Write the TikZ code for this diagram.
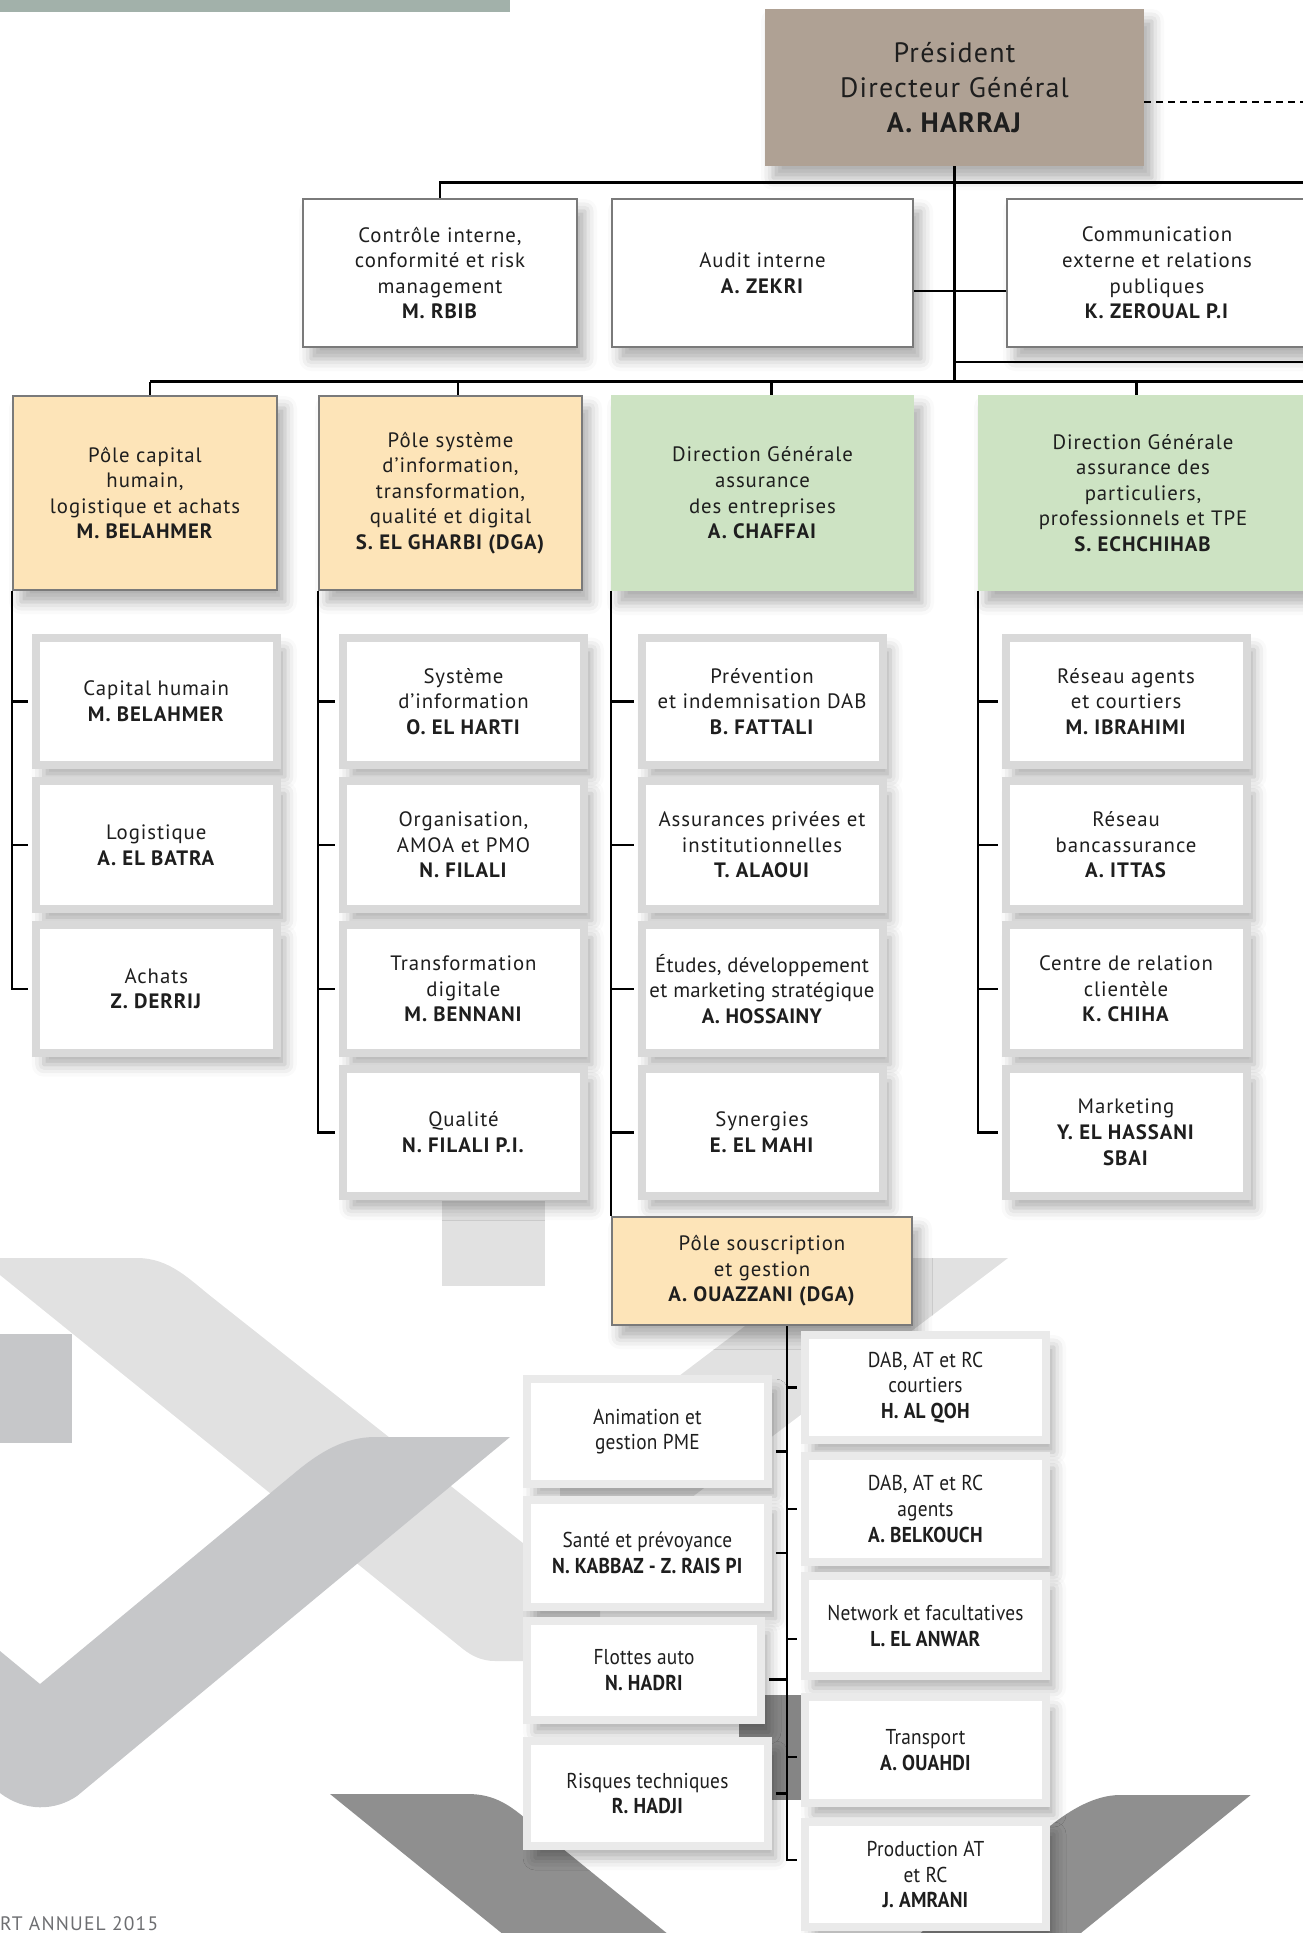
\documentclass[tikz,border=0pt]{standalone}
\usepackage{fontspec}
\setmainfont{PT Sans}[LetterSpace=4.5]
\newfontfamily\condfont{PT Sans}[FakeStretch=0.9, LetterSpace=1]
\newfontfamily\footfont{PT Sans}[LetterSpace=6]
\newfontfamily\tightfont{PT Sans}[LetterSpace=1.5]
\usetikzlibrary{shadows.blur}
\definecolor{barcol}{HTML}{A2B1AA}
\definecolor{pdgfill}{HTML}{AFA194}
\definecolor{yellowfill}{HTML}{FDE4B8}
\definecolor{greenfill}{HTML}{CDE3C3}
\definecolor{bordergray}{HTML}{7A7A7A}
\definecolor{framegray}{HTML}{D9D9D9}
\definecolor{framelight}{HTML}{EAEAEA}
\definecolor{decolight}{HTML}{E1E1E1}
\definecolor{decomid}{HTML}{C6C7C9}
\definecolor{decodark}{HTML}{8F8F8F}
\definecolor{rectdark}{HTML}{858585}
\definecolor{inkcol}{HTML}{1E1E1E}
\definecolor{footcol}{HTML}{6D6E71}
\newcommand\fsMain{\fontsize{20.8}{25.6}\selectfont}
\newcommand\fsBig{\fontsize{28}{35}\selectfont}
\newcommand\fsCond{\condfont\fontsize{21.5}{25.7}\selectfont}
\newcommand\fsTight{\tightfont\fontsize{20.8}{25.6}\selectfont}
\begin{document}
\begin{tikzpicture}[x=1pt,y=-1pt,
  conn/.style={line width=2.5pt, draw=black},
  shad/.style={blur shadow={shadow xshift=8pt, shadow yshift=-12pt, shadow blur radius=12pt, shadow opacity=32}},
  txt/.style={inner sep=0pt, align=center, text=inkcol},
  pdgbox/.style={txt, shad, fill=pdgfill, font=\fsBig},
  lvlone/.style={txt, shad, fill=white, draw=bordergray, line width=2.5pt, font=\fsMain},
  pole/.style={lvlone, fill=yellowfill},
  dgbox/.style={txt, shad, fill=greenfill, font=\fsMain},
  sub/.style={txt, shad, fill=white, draw=framegray, line width=8pt, font=\fsMain, minimum width=241pt, minimum height=127.4pt},
  subc/.style={txt, shad, fill=white, draw=framelight, line width=8pt, font=\fsCond}
]
\useasboundingbox (0,0) rectangle (1303,1933);
\clip (0,0) rectangle (1303,1933);

% ---------- background decoration ----------
\fill[barcol] (0,0) rectangle (510,12);
\fill[decolight] (0,1258) -- (137,1258) .. controls (170,1258) and (190,1280) .. (213,1298)
  -- (600,1604) -- (600,1661) -- (495,1661) .. controls (482,1661) and (472,1656) .. (463,1649)
  -- (0,1275) -- cycle;
\fill[decolight] (1008,1258) -- (835,1258) -- (560,1466) -- (560,1597) -- cycle;
\fill[decomid] (0,1651) -- (40,1684) -- (297,1471) .. controls (320,1452) and (345,1437) .. (375,1437)
  -- (510,1437) -- (77,1796) .. controls (55,1811) and (25,1812) .. (0,1793) -- cycle;
\fill[decomid] (0,1334) rectangle (71.7,1443);
\fill[decolight] (442,1201) rectangle (545,1286);
\fill[decodark] (330,1794) -- (468,1794) .. controls (490,1794) and (505,1802) .. (520,1814)
  -- (690,1952) -- (525,1952) -- cycle;
\fill[decodark] (1250.7,1795) -- (1120,1795) .. controls (1095,1795) and (1070,1810) .. (1050,1826)
  -- (900,1950) -- (1060,1950) -- cycle;
\fill[rectdark] (739,1695) rectangle (805,1800);
\node[anchor=south west, inner sep=0pt, text=footcol, font=\footfont\fontsize{19.5}{23}\selectfont] (foot) at (0,1931) {RT ANNUEL 2015};

% ---------- nodes ----------
\node[pdgbox, minimum width=379pt, minimum height=157pt] (pdg) at (954.5,87.5)
  {Président\\Directeur Général\\\textbf{A. HARRAJ}};

\node[lvlone, minimum width=274pt, minimum height=148pt] (ctrl) at (440,273)
  {Contrôle interne,\\conformité et risk\\management\\\textbf{M. RBIB}};
\node[lvlone, minimum width=301pt, minimum height=148pt] (audit) at (762.5,273)
  {Audit interne\\\textbf{A. ZEKRI}};
\node[lvlone, minimum width=300pt, minimum height=148pt] (comm) at (1157,273)
  {Communication\\externe et relations\\publiques\\\textbf{K. ZEROUAL P.I}};

\node[pole, minimum width=264pt, minimum height=194pt] (p1) at (145,493)
  {Pôle capital\\humain,\\logistique et achats\\\textbf{M. BELAHMER}};
\node[pole, minimum width=263pt, minimum height=194pt] (p2) at (450.5,493)
  {Pôle système\\d’information,\\transformation,\\qualité et digital\\\textbf{S. EL GHARBI (DGA)}};
\node[dgbox, minimum width=303pt, minimum height=196pt] (g1) at (762.5,493)
  {Direction Générale\\assurance\\des entreprises\\\textbf{A. CHAFFAI}};
\node[dgbox, minimum width=330pt, minimum height=196pt] (g2) at (1143,493)
  {Direction Générale\\assurance des\\particuliers,\\professionnels et TPE\\\textbf{S. ECHCHIHAB}};

% column 1
\node[sub] (c1a) at (156.3,701.3) {Capital humain\\\textbf{M. BELAHMER}};
\node[sub] (c1b) at (156.3,845) {Logistique\\\textbf{A. EL BATRA}};
\node[sub] (c1c) at (156.3,988.9) {Achats\\\textbf{Z. DERRIJ}};
% column 2
\node[sub] (c2a) at (463.5,701.3) {Système\\d’information\\\textbf{O. EL HARTI}};
\node[sub] (c2b) at (463.5,845) {Organisation,\\AMOA et PMO\\\textbf{N. FILALI}};
\node[sub] (c2c) at (463.5,988.9) {Transformation\\digitale\\\textbf{M. BENNANI}};
\node[sub] (c2d) at (463.5,1132.3) {Qualité\\\textbf{N. FILALI P.I.}};
% column 3
\node[sub] (c3a) at (762,701.3) {Prévention\\et indemnisation DAB\\\textbf{B. FATTALI}};
\node[sub] (c3b) at (762,845) {Assurances privées et\\institutionnelles\\\textbf{T. ALAOUI}};
\node[sub, font=\fsTight] (c3c) at (762,988.9) {Études, développement\\et marketing stratégique\\\textbf{A. HOSSAINY}};
\node[sub] (c3d) at (762,1132.3) {Synergies\\\textbf{E. EL MAHI}};
% column 4
\node[sub] (c4a) at (1126,701.3) {Réseau agents\\et courtiers\\\textbf{M. IBRAHIMI}};
\node[sub] (c4b) at (1126,845) {Réseau\\bancassurance\\\textbf{A. ITTAS}};
\node[sub] (c4c) at (1126,988.9) {Centre de relation\\clientèle\\\textbf{K. CHIHA}};
\node[sub] (c4d) at (1126,1132.3) {Marketing\\\textbf{Y. EL HASSANI}\\\textbf{SBAI}};

% pole souscription
\node[pole, minimum width=300pt, minimum height=108pt] (ps) at (762,1271)
  {Pôle souscription\\et gestion\\\textbf{A. OUAZZANI (DGA)}};

% bottom left
\node[subc, minimum width=240.7pt, minimum height=105pt] (la) at (647.4,1431.5) {Animation et\\gestion PME};
\node[subc, minimum width=240.7pt, minimum height=107pt] (lb) at (647.4,1553.2) {Santé et prévoyance\\\textbf{N. KABBAZ - Z. RAIS PI}};
\node[subc, minimum width=234pt, minimum height=99.3pt] (lc) at (644,1670.4) {Flottes auto\\\textbf{N. HADRI}};
\node[subc, minimum width=240.7pt, minimum height=105pt] (ld) at (647.4,1793.5) {Risques techniques\\\textbf{R. HADJI}};
% bottom right
\node[subc, minimum width=241pt, minimum height=105pt] (ra) at (925.5,1387.5) {DAB, AT et RC\\courtiers\\\textbf{H. AL QOH}};
\node[subc, minimum width=241pt, minimum height=106pt] (rb) at (925.5,1509) {DAB, AT et RC\\agents\\\textbf{A. BELKOUCH}};
\node[subc, minimum width=241pt, minimum height=100pt] (rc) at (925.5,1626) {Network et facultatives\\\textbf{L. EL ANWAR}};
\node[subc, minimum width=241pt, minimum height=106pt] (rd) at (925.5,1750) {Transport\\\textbf{A. OUAHDI}};
\node[subc, minimum width=241pt, minimum height=105pt] (re) at (925.5,1874.5) {Production AT\\et RC\\\textbf{J. AMRANI}};

% ---------- connectors ----------
\coordinate (busA) at (1303,182.5);
\coordinate (busB) at (1303,362);
\coordinate (busC) at (1303,381.5);
\coordinate (dashend) at (1303,102);
\coordinate (sp) at (787,1326);
% tick attachment points (as placed in the chart)
\coordinate (p1T) at ([xshift=5pt]p1.north);
\coordinate (p2T) at ([xshift=7.5pt]p2.north);
\coordinate (g1T) at ([xshift=9pt]g1.north);
\coordinate (g2T) at ([xshift=-6.5pt]g2.north);
\coordinate (laT) at ([yshift=-20pt]la.east);
\coordinate (lcT) at ([yshift=-9pt]lc.east);
\coordinate (rcT) at ([yshift=-13pt]rc.west);
\coordinate (rdT) at ([yshift=-7pt]rd.west);
\coordinate (reT) at ([yshift=14.5pt]re.west);

\draw[conn] (pdg.south) -- (pdg.south |- busC);
\draw[conn, dash pattern=on 7pt off 5pt] (pdg.east |- dashend) -- (dashend);
\draw[conn] (ctrl.north) -- (ctrl.north |- busA) -- (busA);
\draw[conn] ([yshift=-18pt]audit.east) -- ([yshift=-18pt]comm.west);
\draw[conn] (pdg.south |- busB) -- (busB);
\draw[conn] (p1T |- busC) -- (busC);
\foreach \t in {p1T,p2T,g1T,g2T} \draw[conn] (\t) -- (\t |- busC);
% column spines
\draw[conn, shorten >=4pt] (p1.south west) -- (p1.south west |- c1c.west) -- (c1c.west);
\foreach \b in {c1a,c1b} \draw[conn, shorten >=4pt] (p1.south west |- \b.west) -- (\b.west);
\draw[conn, shorten >=4pt] (p2.south west) -- (p2.south west |- c2d.west) -- (c2d.west);
\foreach \b in {c2a,c2b,c2c} \draw[conn, shorten >=4pt] (p2.south west |- \b.west) -- (\b.west);
\draw[conn] (g1.south west) -- (g1.south west |- ps.north);
\foreach \b in {c3a,c3b,c3c,c3d} \draw[conn, shorten >=4pt] (g1.south west |- \b.west) -- (\b.west);
\draw[conn, shorten >=4pt] (g2.south west) -- (g2.south west |- c4d.west) -- (c4d.west);
\foreach \b in {c4a,c4b,c4c} \draw[conn, shorten >=4pt] (g2.south west |- \b.west) -- (\b.west);
% pole souscription spine
\draw[conn, shorten >=4pt] (sp) -- (sp |- reT) -- (reT);
\foreach \b in {ra.west,rb.west,rcT,rdT} \draw[conn, shorten >=4pt] (sp |- \b) -- (\b);
\foreach \b in {laT,lb.east,lcT,ld.east} \draw[conn, shorten <=4pt] (\b) -- (sp |- \b);
\end{tikzpicture}
\end{document}
